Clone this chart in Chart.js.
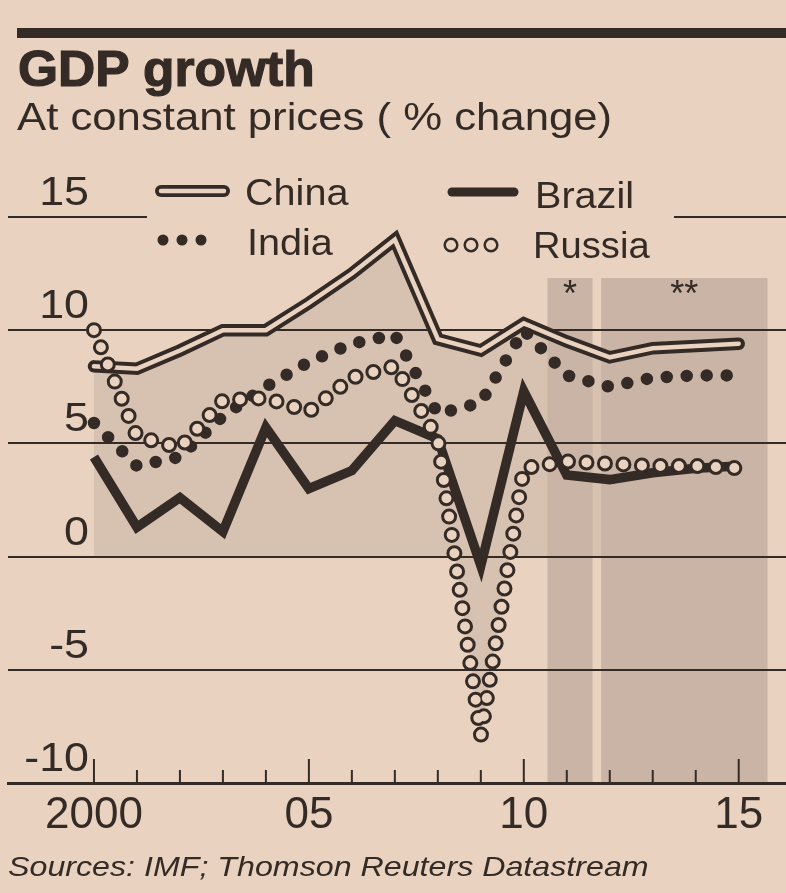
<!DOCTYPE html>
<html lang="en">
<head>
    <meta charset="UTF-8">
    <meta name="viewport" content="width=device-width, initial-scale=1.0">
    <title>GDP growth</title>
    <script src="https://cdn.jsdelivr.net/npm/chart.js"></script>
    <style>
        html, body { margin: 0; padding: 0; background: #e9d2bf; }
        body {
            position: relative;
            width: 786px;
            height: 893px;
            overflow: hidden;
            font-family: "Liberation Sans", Arial, sans-serif;
            color: #352b26;
        }
        #rule { position: absolute; left: 17px; top: 28px; width: 769px; height: 10px; background: #352b26; }
        .txt { position: absolute; white-space: nowrap; line-height: 1; transform-origin: 0 0; }
        #title { left: 18px; top: 44px; font-size: 50px; font-weight: bold; -webkit-text-stroke: 1.2px #352b26; transform: scaleX(1.03); }
        #subtitle { left: 17px; top: 98px; font-size: 38px; transform: scaleX(1.15); }
        #source { left: 8px; top: 853px; font-size: 28px; font-style: italic; transform: scaleX(1.15); }
        #chart { position: absolute; left: 0; top: 0; }
    </style>
</head>
<body>
    <div id="rule"></div>
    <canvas id="chart" width="786" height="893"></canvas>
    <div class="txt" id="title">GDP growth</div>
    <div class="txt" id="subtitle">At constant prices ( % change)</div>
    <div class="txt" id="source">Sources: IMF; Thomson Reuters Datastream</div>

    <script>
        // values, % change
        const years  = [2000, 2001, 2002, 2003, 2004, 2005, 2006, 2007, 2008, 2009, 2010, 2011, 2012, 2013, 2014, 2015];
        const china  = [8.4, 8.3, 9.1, 10.0, 10.0, 11.2, 12.5, 14.0, 9.6, 9.1, 10.3, 9.5, 8.8, 9.2, 9.3, 9.4];
        const india  = [5.9, 4.0, 4.4, 6.2, 7.5, 8.6, 9.4, 9.8, 6.3, 6.8, 10.0, 8.0, 7.5, 7.9, 8.0, 8.0];
        const brazil = [4.4, 1.3, 2.6, 1.1, 5.7, 3.0, 3.8, 6.0, 5.2, -0.4, 7.3, 3.6, 3.4, 3.7, 3.9, 4.0];
        const russia = [10.0, 5.3, 4.8, 6.9, 7.0, 6.4, 7.9, 8.4, 5.2, -7.9, 3.9, 4.2, 4.1, 4.0, 4.0, 3.9];

        const seriesNames = ['China', 'Brazil', 'India', 'Russia'];
        const yTicks = [-10, -5, 0, 5, 10, 15];
        const yTickLabels = ['-10', '-5', '0', '5', '10', '15'];
        const xLabelYears = [2000, 2005, 2010, 2015];
        const xLabels = ['2000', '05', '10', '15'];
        // * estimate, ** forecast
        const forecastBands = [[2010.55, 2011.6], [2011.8, 2015.67]];
        const forecastMarks = ['*', '**'];
        const forecastTop = 12.3;

        const ink = '#352b26';
        const paper = '#e9d2bf';
        const shade = '#d7c2b1';
        const bandShade = '#c9b4a5';
        const font = '"Liberation Sans", Arial, sans-serif';

        const pts = vals => years.map((yr, i) => ({x: yr, y: vals[i]}));

        function stroke(ctx, x0, y0, x1, y1) {
            ctx.beginPath();
            ctx.moveTo(x0, y0);
            ctx.lineTo(x1, y1);
            ctx.stroke();
        }

        function wideText(ctx, str, x, y, sx) {
            ctx.save();
            ctx.translate(x, y);
            ctx.scale(sx, 1);
            ctx.fillText(str, 0, 0);
            ctx.restore();
        }

        const decor = {
            id: 'decor',
            beforeDraw(chart) {
                // shaded estimate/forecast periods, over the area fill
                const {ctx, chartArea, scales: {x, y}} = chart;
                const top = y.getPixelForValue(forecastTop);
                ctx.save();
                ctx.fillStyle = bandShade;
                forecastBands.forEach(([a, b]) => {
                    const x0 = x.getPixelForValue(a);
                    ctx.fillRect(x0, top, x.getPixelForValue(b) - x0, chartArea.bottom - top);
                });
                ctx.restore();
            },
            beforeDatasetsDraw(chart) {
                const {ctx, chartArea, scales: {x, y}} = chart;
                ctx.save();

                // the key sits on the 15 line
                const y15 = y.getPixelForValue(15);
                ctx.fillStyle = paper;
                ctx.fillRect(147, y15 - 4, 527, 8);

                // year ticks point up from the axis
                ctx.strokeStyle = ink;
                ctx.lineWidth = 2;
                x.ticks.forEach(t => {
                    const px = x.getPixelForValue(t.value);
                    const len = xLabelYears.includes(t.value) ? 24 : 13;
                    stroke(ctx, px, chartArea.bottom, px, chartArea.bottom - len);
                });

                // y labels sit above their lines
                ctx.fillStyle = ink;
                ctx.font = '40px ' + font;
                ctx.textAlign = 'right';
                ctx.textBaseline = 'alphabetic';
                yTicks.forEach((v, i) => {
                    wideText(ctx, yTickLabels[i], 89, y.getPixelForValue(v) - 12, 1.12);
                });

                ctx.font = '36px ' + font;
                ctx.textAlign = 'center';
                const top = y.getPixelForValue(forecastTop);
                forecastBands.forEach(([a, b], i) => {
                    const cx = x.getPixelForValue((a + b) / 2);
                    ctx.fillText(forecastMarks[i], cx, top + 28);
                });
                ctx.restore();
            },
            afterDraw(chart) {
                const ctx = chart.ctx;
                ctx.save();
                ctx.lineCap = 'round';

                // China: double rule
                ctx.strokeStyle = ink;
                ctx.lineWidth = 12;
                stroke(ctx, 161, 191, 224, 191);
                ctx.strokeStyle = paper;
                ctx.lineWidth = 4.5;
                stroke(ctx, 161, 191, 224, 191);

                // Brazil: heavy rule
                ctx.strokeStyle = ink;
                ctx.lineWidth = 9;
                stroke(ctx, 452, 192, 514, 192);

                // India: dots
                ctx.fillStyle = ink;
                [163, 182, 201].forEach(cx => {
                    ctx.beginPath();
                    ctx.arc(cx, 240, 5.5, 0, Math.PI * 2);
                    ctx.fill();
                });

                // Russia: rings
                ctx.lineWidth = 2.5;
                [451, 471, 491].forEach(cx => {
                    ctx.beginPath();
                    ctx.arc(cx, 245, 6.3, 0, Math.PI * 2);
                    ctx.stroke();
                });

                ctx.font = '36px ' + font;
                ctx.textAlign = 'left';
                ctx.textBaseline = 'alphabetic';
                wideText(ctx, seriesNames[0], 245, 205, 1.1);
                wideText(ctx, seriesNames[1], 535, 208, 1.1);
                wideText(ctx, seriesNames[2], 247, 255, 1.1);
                wideText(ctx, seriesNames[3], 533, 258, 1.06);
                ctx.restore();
            }
        };

        const gdpChart = new Chart(document.getElementById('chart').getContext('2d'), {
            type: 'line',
            data: {
                datasets: [
                    {label: 'Russia', data: pts(russia), borderColor: paper, borderWidth: 10,
                     borderDash: [0, 18.5], borderCapStyle: 'round', order: 0},
                    {label: 'Russia', data: pts(russia), borderColor: ink, borderWidth: 16,
                     borderDash: [0, 18.5], borderCapStyle: 'round', order: 1,
                     fill: {target: 'origin', above: 'rgba(0,0,0,0)', below: shade}},
                    {label: 'India', data: pts(india), borderColor: ink, borderWidth: 12.5,
                     borderDash: [0, 20], borderCapStyle: 'round', order: 2},
                    {label: 'China', data: pts(china), borderColor: paper, borderWidth: 4.5,
                     borderCapStyle: 'round', order: 3},
                    {label: 'China', data: pts(china), borderColor: ink, borderWidth: 12.5,
                     borderCapStyle: 'round', order: 4, fill: 'origin', backgroundColor: shade},
                    {label: 'Brazil', data: pts(brazil), borderColor: ink, borderWidth: 9.5, order: 5}
                ]
            },
            options: {
                responsive: false,
                animation: false,
                events: [],
                layout: { padding: { top: 149, left: 8, right: 0, bottom: 0 } },
                elements: {
                    line: { tension: 0, fill: false },
                    point: { radius: 0 }
                },
                scales: {
                    x: {
                        type: 'linear',
                        min: 1998,
                        max: 2016.1,
                        afterBuildTicks: s => { s.ticks = years.map(v => ({value: v})); },
                        afterFit: s => { s.height = 110; },
                        grid: { display: false, drawTicks: false },
                        border: { display: true, color: ink, width: 3 },
                        ticks: {
                            autoSkip: false,
                            maxRotation: 0,
                            padding: 6,
                            color: ink,
                            font: { family: font, size: 44 },
                            callback: v => {
                                const i = xLabelYears.indexOf(v);
                                return i < 0 ? '' : xLabels[i];
                            }
                        }
                    },
                    y: {
                        min: -10,
                        max: 18,
                        afterBuildTicks: s => { s.ticks = yTicks.map(v => ({value: v})); },
                        afterFit: s => { s.width = 0; },
                        grid: { color: ink, lineWidth: 2, drawTicks: false },
                        border: { display: false },
                        ticks: { display: false }
                    }
                },
                plugins: {
                    legend: { display: false },
                    tooltip: { enabled: false },
                    filler: { drawTime: 'beforeDraw' }
                }
            },
            plugins: [decor]
        });
    </script>
</body>
</html>
